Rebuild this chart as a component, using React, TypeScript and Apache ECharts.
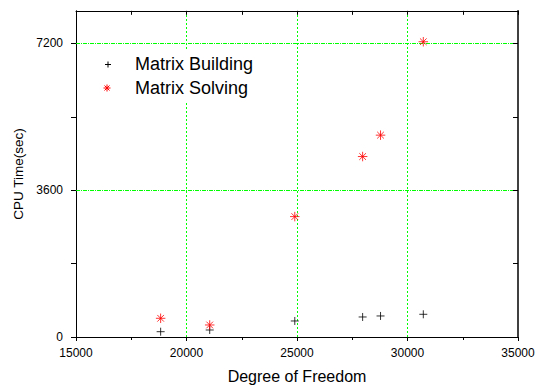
import React, { useEffect, useRef } from "react";
import * as echarts from "echarts";

const xDof = [18830, 21050, 24900, 27970, 28780, 30715];
const buildTime = [130, 172, 393, 491, 516, 557];
const solveTime = [459, 295, 2953, 4426, 4951, 7242];
const yTickValues = [0, 1800, 3600, 5400, 7200];
const yLabelValues = [0, 3600, 7200];
const xGridValues = [20000, 25000, 30000];
const yGridValues = [3600, 7200];
const seriesNames = ["Matrix Building", "Matrix Solving"];

const FONT = 'Arial, "Liberation Sans", sans-serif';
const PLUS = "path://M0,4L8,4M4,0L4,8";
const STAR = "path://M4,0L4,8M0,4L8,4M1.2,1.2L6.8,6.8M6.8,1.2L1.2,6.8";

export default function App() {
  const ref = useRef<HTMLDivElement>(null);
  useEffect(() => {
    const chart = echarts.init(ref.current!, null, { renderer: "svg" });
    const green = "#00ff00";
    const markData: any[] = [
      ...xGridValues.map((v) => ({ xAxis: v, lineStyle: { color: green, width: 1, type: [2, 2] } })),
      ...yGridValues.map((v) => ({ yAxis: v, lineStyle: { color: green, width: 1.2, type: [4, 1, 1, 1] } })),
    ];
    const fmt = (v: number) => String(v);
    chart.setOption({
      animation: false,
      backgroundColor: "#ffffff",
      grid: { left: 76, right: 27, top: 10.83, bottom: 51.5 },
      xAxis: [
        {
          type: "value",
          position: "bottom",
          min: 15000,
          max: 35000,
          interval: 5000,
          name: "Degree of Freedom",
          nameLocation: "middle",
          nameGap: 31,
          nameTextStyle: { fontFamily: FONT, fontSize: 16, color: "#000" },
          axisLine: { show: true, onZero: false, lineStyle: { color: "#000", width: 1 } },
          axisTick: { show: true, inside: false, length: 4, lineStyle: { color: "#000" } },
          minorTick: { show: true, splitNumber: 2, length: 3, lineStyle: { color: "#000" } },
          axisLabel: { fontFamily: FONT, fontSize: 12, color: "#000", margin: 10, formatter: fmt },
          splitLine: { show: false },
        },
        {
          type: "value",
          position: "top",
          min: 15000,
          max: 35000,
          interval: 5000,
          z: 5,
          axisLine: { show: true, onZero: false, lineStyle: { color: "#000", width: 1 } },
          axisTick: { show: true, inside: true, length: 4, lineStyle: { color: "#000" } },
          minorTick: { show: true, splitNumber: 2, length: 4, lineStyle: { color: "#000" } },
          axisLabel: { show: false },
          splitLine: { show: false },
        },
      ],
      yAxis: [
        {
          type: "value",
          position: "left",
          min: 0,
          max: 8000,
          name: "CPU Time(sec)",
          nameLocation: "middle",
          nameGap: 50,
          nameTextStyle: { fontFamily: FONT, fontSize: 13.5, color: "#000" },
          axisLine: { show: true, onZero: false, lineStyle: { color: "#000", width: 1 } },
          axisTick: { show: true, inside: false, length: 5, customValues: yTickValues, lineStyle: { color: "#000" } },
          axisLabel: { fontFamily: FONT, fontSize: 12, color: "#000", margin: 13, customValues: yLabelValues, formatter: fmt },
          splitLine: { show: false },
        },
        {
          type: "value",
          position: "right",
          min: 0,
          max: 8000,
          z: 5,
          axisLine: { show: true, onZero: false, lineStyle: { color: "#000", width: 1.5 } },
          axisTick: { show: true, inside: true, length: 5, customValues: yTickValues, lineStyle: { color: "#000" } },
          axisLabel: { show: false },
          splitLine: { show: false },
        },
      ],
      series: [
        {
          name: seriesNames[0],
          type: "scatter",
          xAxisIndex: 0,
          yAxisIndex: 0,
          symbol: PLUS,
          symbolSize: 8,
          itemStyle: { color: "#000", borderColor: "#000", borderWidth: 1 },
          data: xDof.map((x, i) => [x, buildTime[i]]),
          markLine: {
            silent: true,
            symbol: ["none", "none"],
            label: { show: false },
            z: 1,
            data: markData,
          },
          z: 3,
        },
        {
          name: seriesNames[1],
          type: "scatter",
          xAxisIndex: 0,
          yAxisIndex: 0,
          symbol: STAR,
          symbolSize: 9.5,
          itemStyle: { color: "#ff0000", borderColor: "#ff0000", borderWidth: 1 },
          data: xDof.map((x, i) => [x, solveTime[i]]),
          z: 3,
        },
      ],
      graphic: [
        { type: "rect", z: 100, shape: { x: 95, y: 51, width: 172, height: 50 }, style: { fill: "#ffffff" } },
        { type: "line", z: 101, shape: { x1: 105, y1: 64.5, x2: 111, y2: 64.5 }, style: { stroke: "#000", lineWidth: 1 } },
        { type: "line", z: 101, shape: { x1: 108, y1: 61.5, x2: 108, y2: 67.5 }, style: { stroke: "#000", lineWidth: 1 } },
        { type: "line", z: 101, shape: { x1: 103.5, y1: 88, x2: 110.5, y2: 88 }, style: { stroke: "#ff0000", lineWidth: 1 } },
        { type: "line", z: 101, shape: { x1: 107, y1: 84.5, x2: 107, y2: 91.5 }, style: { stroke: "#ff0000", lineWidth: 1 } },
        { type: "line", z: 101, shape: { x1: 104.5, y1: 85.5, x2: 109.5, y2: 90.5 }, style: { stroke: "#ff0000", lineWidth: 1 } },
        { type: "line", z: 101, shape: { x1: 109.5, y1: 85.5, x2: 104.5, y2: 90.5 }, style: { stroke: "#ff0000", lineWidth: 1 } },
        {
          type: "text",
          z: 101,
          x: 135,
          y: 64,
          style: { text: seriesNames[0], fill: "#000", font: `18px ${FONT}`, verticalAlign: "middle", align: "left" },
        },
        {
          type: "text",
          z: 101,
          x: 135,
          y: 88,
          style: { text: seriesNames[1], fill: "#000", font: `18px ${FONT}`, verticalAlign: "middle", align: "left" },
        },
      ],
    });
    return () => chart.dispose();
  }, []);
  return (
    <div
      ref={ref}
      style={{ position: "fixed", left: 0, top: 0, width: 545, height: 389, background: "#fff" }}
    />
  );
}
